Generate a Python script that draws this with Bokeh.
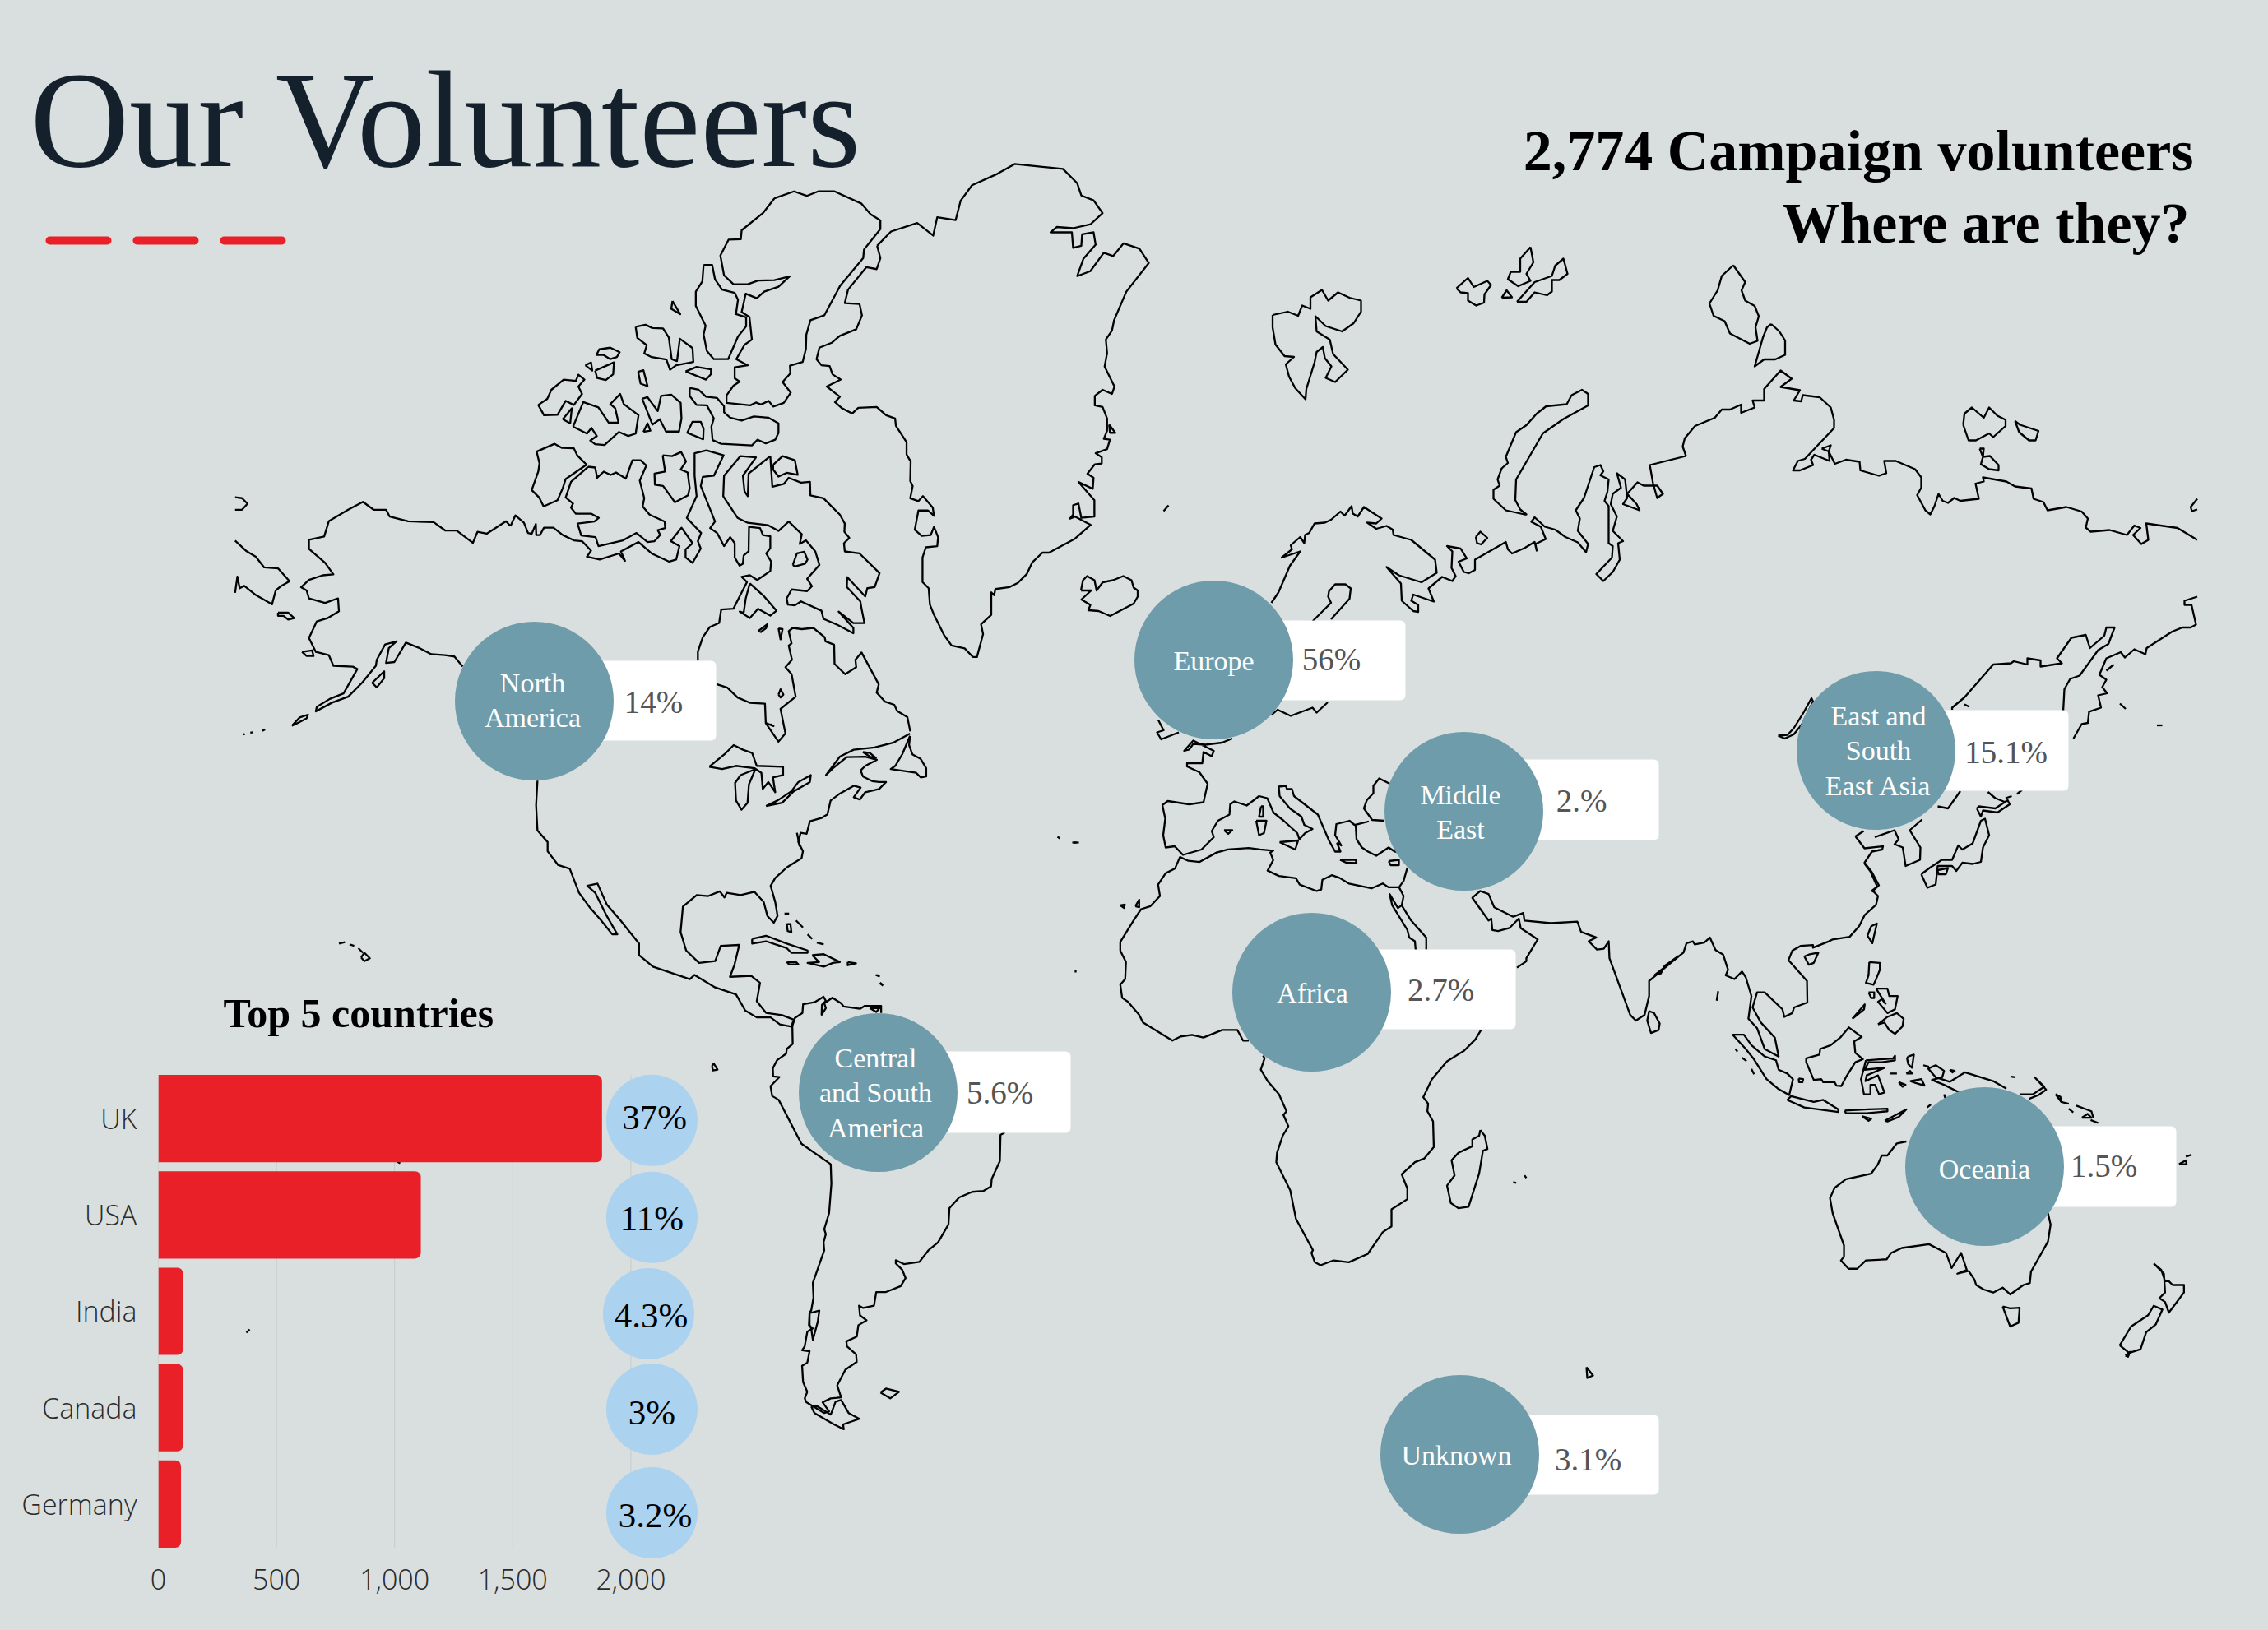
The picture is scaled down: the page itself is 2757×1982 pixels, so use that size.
from bokeh.plotting import figure
from bokeh.models import ColumnDataSource, FixedTicker, NumeralTickFormatter, Range1d
from bokeh.core.properties import value
from bokeh.embed import file_html
from bokeh.resources import INLINE

# ---------------------------------------------------------------- chart values
COUNTRIES = ["UK", "USA", "India", "Canada", "Germany"]
VOLUNTEERS = [1878, 1111, 105, 105, 96]
COUNTRY_SHARE = ["37%", "11%", "4.3%", "3%", "3.2%"]
X_TICKS = [0, 500, 1000, 1500, 2000]

REGION_NAMES = ["North\nAmerica", "Europe", "Middle\nEast", "East and\nSouth\nEast Asia",
                "Africa", "Oceania", "Central\nand South\nAmerica", "Unknown"]
REGION_SHARE = ["14%", "56%", "2.%", "15.1%", "2.7%", "1.5%", "5.6%", "3.1%"]

TITLE = "Our Volunteers"
SUBTITLE = ["2,774 Campaign volunteers", "Where are they?"]
BAR_TITLE = "Top 5 countries"

# ---------------------------------------------------------------- map outlines
# each group is expressed in its own tracing frame
FRAMES = {"arctic": (620, 180, 780 / 1568), "americas": (260, 580, 880 / 1568),
          "south": (780, 1170, 620 / 1568), "eurasia": (1300, 280, 0.5),
          "asia": (1980, 300, 0.5), "africa": (1320, 880, 720 / 1568),
          "pacific": (2000, 1050, 720 / 1568), "page": (0, 0, 1)}

CLOSED = {
"arctic": [
 [(645,122),(693,105),(724,116),(752,105),(792,105),(858,135),(880,161),(904,176),(904,197),(864,247),(862,268),(806,335),(767,408),(733,420),(723,455),(722,490),(714,522),(683,531),(684,550),(665,571),(685,597),(668,622),(642,631),(631,617),(612,626),(600,621),(586,628),(528,622),(528,604),(545,580),(560,570),(548,562),(548,535),(580,530),(552,515),(572,480),(590,467),(584,412),(565,400),(575,355),(602,366),(620,350),(655,338),(682,313),(645,322),(605,323),(580,332),(545,332),(522,310),(513,262),(533,223),(563,222),(565,200),(618,157)],
 [(472,285),(493,285),(500,320),(517,345),(548,353),(556,370),(551,405),(576,413),(576,435),(556,460),(532,515),(497,515),(480,495),(472,455),(477,433),(453,385),(453,350),(469,325)],
 [(396,373),(415,405),(393,392)],
 [(306,436),(330,431),(347,439),(373,440),(387,462),(394,515),(407,520),(414,465),(445,488),(447,522),(405,530),(390,541),(381,516),(345,510),(327,501),(333,481),(310,463)],
 [(210,505),(217,491),(244,487),(267,498),(260,510),(244,515),(228,505)],
 [(183,530),(197,523),(200,543)],
 [(207,543),(253,523),(251,552),(233,566),(212,561)],
 [(312,546),(325,542),(335,581),(318,575)],
 [(428,545),(455,534),(490,540),(490,552),(478,565)],
 [(68,627),(90,612),(100,590),(130,565),(160,568),(166,553),(181,565),(166,582),(175,600),(155,627),(135,617),(115,651),(82,652)],
 [(128,662),(150,635),(146,672)],
 [(153,680),(178,620),(215,633),(240,670),(264,670),(256,635),(244,625),(268,600),(277,625),(313,652),(306,697),(288,703),(265,693),(230,725),(207,723),(195,714),(211,703),(198,683),(187,697)],
 [(322,612),(335,608),(360,642),(368,605),(393,602),(416,622),(418,660),(412,692),(380,692),(365,662),(347,675)],
 [(325,693),(335,672),(342,690)],
 [(432,695),(445,668),(465,668),(472,685),(471,711)],
 [(438,585),(460,590),(478,607),(505,610),(522,630),(522,645),(537,658),(565,665),(595,655),(630,658),(655,672),(655,695),(647,712),(624,721),(604,712),(590,726),(515,722),(494,713),(491,680),(497,660),(480,628),(455,627),(438,605)],
 [(64,741),(108,722),(126,732),(155,733),(163,750),(186,773),(135,808),(128,830),(115,860),(81,875),(70,853),(52,835),(68,790),(71,770)],
 [(190,778),(207,780),(212,805),(228,790),(245,798),(258,792),(282,807),(298,762),(318,762),(332,775),(316,812),(327,855),(323,875),(340,895),(377,912),(378,928),(360,933),(366,945),(352,960),(335,962),(308,940),(275,958),(215,972),(208,950),(173,946),(164,917),(205,912),(216,903),(198,893),(160,893),(148,878),(153,868),(135,853),(148,815)],
 [(372,750),(395,752),(417,742),(429,765),(416,785),(433,792),(438,830),(434,848),(402,865),(373,825),(353,822),(352,795),(378,790)],
 [(635,752),(640,827),(668,820),(680,805),(710,817),(732,815),(733,848),(765,855),(805,895),(817,917),(816,937),(828,952),(815,965),(817,985),(853,990),(902,1038),(890,1072),(872,1075),(867,1095),(823,1048),(822,1072),(855,1107),(858,1125),(865,1160),(838,1160),(802,1132),(838,1172),(838,1185),(800,1165),(765,1150),(760,1130),(710,1107),(695,1117),(678,1115),(675,1100),(687,1078),(725,1082),(737,1070),(725,1052),(755,1018),(745,985),(722,958),(707,967),(712,943),(680,912),(655,935),(630,921),(580,915),(555,903),(520,850),(522,800),(562,752),(600,755),(568,800),(572,838),(580,850),(582,795)],
 [(642,773),(665,752),(695,762),(702,798),(675,793),(655,802),(642,785)],
 [(690,1018),(700,990),(718,986),(726,1005),(720,1015),(695,1022)],
 [(585,1063),(575,1100),(570,1135),(560,1132),(585,1148),(605,1125),(635,1142),(650,1130),(620,1095)],
 [(605,1180),(628,1163),(625,1172),(612,1182)],
 [(655,1173),(665,1175),(660,1200)],
 [(655,1335),(660,1322),(667,1335),(660,1342)],
 [(896,238),(930,203),(994,182),(1033,213),(1043,168),(1088,175),(1100,128),(1128,90),(1190,62),(1232,38),(1350,50),(1385,85),(1395,115),(1425,127),(1447,158),(1418,185),(1375,195),(1335,192),(1320,205),(1372,205),(1375,243),(1395,238),(1397,210),(1425,205),(1430,235),(1400,270),(1385,312),(1417,300),(1450,255),(1473,263),(1498,232),(1537,245),(1560,280),(1505,350),(1475,420),(1470,445),(1455,467),(1458,500),(1452,533),(1476,582),(1470,600),(1447,590),(1428,605),(1428,628),(1447,632),(1458,660),(1458,690),(1450,710),(1465,712),(1458,735),(1430,745),(1445,755),(1445,770),(1428,772),(1410,795),(1425,805),(1423,832),(1388,815),(1427,860),(1427,900),(1395,903),(1388,868),(1375,872),(1375,895),(1367,905),(1380,900),(1418,920),(1378,955),(1316,988),(1300,988),(1275,1012),(1262,1040),(1240,1062),(1220,1072),(1185,1077),(1182,1092),(1175,1085),(1175,1140),(1150,1163),(1155,1187),(1140,1243),(1130,1243),(1110,1222),(1078,1215),(1060,1190),(1035,1140),(1025,1115),(1022,1075),(1007,1060),(1007,1000),(1015,975),(1043,972),(1045,950),(1035,925),(1027,945),(1005,947),(988,932),(997,885),(1020,885),(1035,898),(1032,878),(1008,850),(997,862),(977,855),(983,825),(977,813),(978,765),(968,748),(968,718),(942,678),(940,660),(918,652),(895,632),(850,634),(835,648),(810,635),(793,620),(805,607),(773,582),(807,565),(787,552),(780,532),(760,530),(748,515),(755,487),(785,475),(805,458),(845,442),(859,408),(853,380),(817,378),(825,345),(870,290),(895,295),(904,268)],
 [(1463,675),(1478,695),(1465,695)],
],
"americas": [
 [(1507,560),(1490,600),(1475,625),(1465,632),(1520,640),(1530,650),(1542,648),(1542,630),(1530,610),(1512,600),(1505,580)],
 [(1405,595),(1420,597),(1433,608),(1420,605)],
 [(1072,627),(1105,600),(1125,580),(1145,590),(1165,597),(1175,625),(1232,627),(1232,645),(1210,650),(1215,682),(1200,660),(1188,675),(1185,640),(1170,630),(1130,625),(1100,632)],
 [(1172,632),(1140,645),(1128,662),(1130,700),(1142,720),(1155,705),(1158,665)],
 [(1195,712),(1220,700),(1250,680),(1265,660),(1292,645),(1290,660),(1255,680),(1230,705)],
 [(138,293),(160,293),(173,305),(160,308),(150,300),(138,300)],
 [(168,538),(185,520),(203,514),(200,522),(175,535)],
 [(342,445),(368,420),(368,435),(352,455)],
 [(190,378),(212,375),(215,387),(200,387)],
 [(318,1040),(325,1030),(337,1042),(325,1048)],
 [(1165,1000),(1195,993),(1240,1010),(1285,1025),(1285,1030),(1250,1030),(1240,1020),(1195,1005),(1165,1010)],
 [(1295,1035),(1320,1033),(1355,1050),(1340,1052),(1320,1060),(1285,1052),(1310,1050)],
 [(1240,1050),(1260,1050),(1265,1055),(1245,1055)],
 [(1372,1050),(1390,1053),(1372,1057)],
 [(1240,968),(1248,968),(1250,985),(1242,983)],
 [(1078,1275),(1082,1270),(1090,1283),(1080,1285)],
],
"south": [
 [(520,1365),(530,1385),(590,1420),(620,1435),(618,1420),(668,1403),(635,1385),(612,1345),(595,1350),(580,1390),(540,1365)],
 [(733,1322),(750,1310),(790,1320),(763,1340)],
 [(515,1078),(545,1070),(540,1105),(525,1160),(520,1125),(515,1115)],
 [(700,140),(730,140),(720,152)],
],
"eurasia": [
 [(1105,690),(1060,680),(1030,652),(1030,630),(1045,620),(1040,605),(1050,578),(1065,565),(1060,550),(1085,490),(1110,473),(1135,445),(1158,427),(1208,422),(1220,400),(1245,387),(1260,397),(1260,425),(1200,458),(1150,493),(1085,605),(1083,655),(1095,678),(1110,690)],
 [(987,745),(998,732),(1015,747),(1000,763),(990,760)],
 [(493,205),(530,197),(555,207),(565,182),(585,190),(585,162),(613,144),(628,170),(652,150),(680,163),(708,170),(708,197),(690,225),(662,245),(622,232),(597,208),(600,245),(632,265),(640,300),(676,338),(645,368),(622,358),(636,330),(620,310),(615,283),(600,295),(595,320),(575,385),(573,410),(548,383),(533,355),(525,325),(545,307),(522,305),(500,277),(493,235)],
 [(940,140),(968,115),(982,137),(1015,122),(1024,132),(1008,155),(1007,175),(988,182),(968,170),(968,152),(950,150)],
 [(1050,163),(1062,145),(1075,162)],
 [(1120,40),(1127,77),(1110,105),(1120,122),(1090,135),(1065,118),(1072,100),(1095,100),(1095,68)],
 [(1087,173),(1130,125),(1172,110),(1180,85),(1200,68),(1210,105),(1190,120),(1172,120),(1172,148),(1160,157),(1130,150),(1110,173)],
 [(27,875),(32,850),(42,840),(60,850),(65,875),(80,855),(105,850),(130,840),(150,850),(155,868),(165,875),(165,890),(155,907),(98,937),(70,925),(45,923),(50,910),(28,897),(52,875)],
 [(510,1487),(555,1483),(548,1505)],
 [(453,1435),(478,1435),(472,1465),(460,1470)],
 [(465,1400),(470,1400),(470,1425),(460,1425)],
 [(375,1458),(395,1458),(385,1467)],
 [(657,1530),(695,1530),(697,1538),(672,1537)],
 [(775,1533),(800,1530),(800,1543),(780,1543)],
],
"asia": [
 [(253,44),(282,85),(273,105),(282,130),(305,143),(315,168),(307,195),(312,228),(293,235),(245,210),(232,180),(205,167),(195,137),(215,105),(225,70)],
 [(345,187),(365,205),(379,227),(379,262),(355,273),(328,273),(305,290),(325,220),(335,195)],
 [(812,432),(815,405),(833,390),(862,415),(875,390),(895,410),(915,420),(915,435),(885,462),(875,453),(843,470),(825,470)],
 [(938,423),(950,432),(995,447),(988,470),(972,470),(948,450)],
 [(852,490),(862,490),(860,510),(877,508),(898,530),(898,543),(875,540),(855,528),(860,510)],
 [(468,490),(490,482),(485,497)],
 [(710,1525),(730,1510),(760,1490),(785,1490),(800,1455),(810,1465),(835,1450),(855,1395),(865,1390),(875,1430),(860,1460),(855,1495),(835,1500),(810,1497),(795,1517),(785,1505),(750,1505),(745,1550),(725,1558)],
 [(750,1515),(775,1510),(770,1525),(752,1525)],
 [(845,1365),(850,1360),(890,1365),(920,1345),(925,1355),(895,1375),(860,1370),(855,1385)],
],
"africa": [
 [(90,480),(102,478),(100,487)],
 [(130,482),(140,465),(140,485)],
 [(1043,1075),(1055,1090),(1062,1125),(1050,1130),(1040,1190),(1012,1278),(985,1282),(965,1268),(955,1222),(975,1195),(967,1155),(985,1135),(1022,1118),(1022,1100),(1040,1090)],
 [(1490,760),(1503,765),(1518,793),(1515,810),(1495,818),(1485,785)],
],
"pacific": [
 [(597,165),(612,158),(600,210),(587,190)],
 [(420,245),(432,240),(457,235),(445,262),(432,267)],
 [(592,260),(620,262),(620,280),(608,310),(603,320),(583,315),(590,295)],
 [(590,340),(605,340),(605,355),(597,355)],
 [(610,330),(640,330),(645,350),(667,350),(660,385),(640,395),(615,365),(625,358),(635,370)],
 [(615,425),(640,405),(665,395),(683,410),(680,430),(660,450),(645,440),(632,420)],
 [(547,410),(580,372),(578,385)],
 [(425,515),(460,505),(462,490),(490,480),(515,460),(538,433),(572,458),(552,470),(555,500),(575,517),(555,525),(530,565),(518,588),(505,587),(500,578),(470,578),(465,570),(445,572),(425,525)],
 [(230,452),(260,452),(280,480),(315,510),(345,520),(352,545),(375,555),(390,570),(380,612),(350,595),(320,570),(285,515),(265,490)],
 [(375,625),(385,615),(445,630),(470,625),(510,650),(510,657),(420,645)],
 [(527,653),(590,650),(640,648),(640,655),(585,660),(530,660)],
 [(633,680),(690,650),(670,670),(640,682)],
 [(573,668),(597,675),(590,680)],
 [(583,520),(655,515),(660,508),(660,520),(625,525),(590,525),(580,545),(632,540),(585,560),(582,575),(615,560),(632,605),(618,610),(607,585),(595,585),(595,610),(578,610),(570,570)],
 [(695,510),(710,505),(705,540),(695,530),(692,515)],
 [(690,555),(700,548),(705,555)],
 [(670,578),(688,585),(680,590)],
 [(700,575),(730,570),(738,587),(715,580)],
 [(405,568),(417,570),(415,578),(406,578)],
 [(805,545),(818,548),(812,552)],
 [(945,1172),(965,1177),(990,1175),(987,1215),(965,1225)],
 [(1345,1058),(1365,1075),(1375,1105),(1385,1105),(1395,1115),(1425,1115),(1425,1135),(1395,1175),(1385,1188),(1375,1160),(1360,1150),(1375,1135),(1372,1085)],
 [(1255,1275),(1285,1225),(1330,1195),(1345,1170),(1368,1180),(1350,1220),(1325,1240),(1310,1285),(1280,1295)],
 [(1270,1302),(1282,1292),(1277,1305)],
 [(1412,795),(1430,785),(1432,795)],
 [(1155,672),(1170,662),(1180,672)],
 [(1085,610),(1098,617),(1100,630)],
],
"page": [
 [(1928,1662),(1936,1672),(1929,1675)],
],
}

OPEN = {
"arctic": [
 [(0,923),(12,897),(33,915),(43,940),(52,942),(62,918),(63,945),(72,945),(82,927),(105,927),(128,945),(155,958),(175,960),(197,983),(187,998),(218,1005),(265,990),(280,1008),(270,985),(313,962),(345,990),(388,1010),(405,1005),(413,972),(392,960),(418,927),(445,965),(428,980),(428,1000),(445,1013),(465,978),(458,960),(466,940),(431,903),(455,850),(450,800),(450,745),(479,738),(521,750),(497,800),(470,803),(465,825),(500,912),(488,928),(505,940),(522,972),(537,950),(548,965),(548,1000),(560,1020),(568,1015),(570,995),(582,985),(583,925),(610,928),(617,945),(635,948),(635,977),(625,990),(637,1010),(635,1033),(603,1055),(585,1043),(565,1047),(578,1060),(560,1095),(545,1125),(515,1127),(510,1160),(487,1170),(470,1195),(458,1230),(458,1252)],
 [(505,1310),(530,1318),(555,1342),(585,1355),(622,1357),(624,1405),(655,1450),(672,1430),(660,1370),(697,1340),(687,1285),(672,1268),(688,1250),(680,1215),(687,1210),(680,1180),(690,1172),(712,1175),(740,1172),(768,1195),(770,1205),(791,1213),(792,1260),(818,1285),(845,1268),(843,1250),(858,1232),(900,1310),(895,1330),(915,1352),(938,1360),(945,1375),(970,1390),(977,1425)],
 [(625,1405),(643,1412),(635,1407)],
],
"americas": [
 [(45,43),(60,45),(72,57),(60,70),(45,70)],
 [(45,137),(70,160),(90,172),(108,195),(138,197),(163,225),(145,235),(133,245),(125,275),(90,255),(65,235),(55,240),(50,215),(45,250)],
 [(538,410),(520,388),(500,385),(470,383),(445,370),(415,358),(390,400),(372,402),(378,370),(395,355),(370,362),(352,395),(350,408),(320,445),(290,475),(255,488),(220,507),(222,497),(250,480),(280,468),(310,415),(300,410),(258,408),(248,385),(220,378),(205,348),(222,312),(245,305),(270,290),(268,262),(240,272),(205,262),(200,245),(188,238),(205,222),(235,212),(258,210),(240,185),(205,155),(205,135),(238,128),(248,95),(290,70),(322,53),(345,70),(372,70),(380,85),(420,95),(475,97),(500,115),(525,115),(560,142),(570,118),(590,122),(632,95),(641,105)],
 [(1507,555),(1470,575),(1430,585),(1385,590),(1355,605),(1325,645),(1340,630),(1370,606),(1410,605),(1435,612),(1410,625),(1400,635),(1405,648),(1425,658),(1440,660),(1455,660),(1440,675),(1410,682),(1398,698),(1385,693),(1400,672),(1385,668),(1355,685),(1335,700),(1328,730),(1315,738),(1290,745),(1283,772),(1270,770),(1265,790),(1275,810),(1272,825),(1240,845),(1215,868),(1205,885),(1215,920),(1220,950),(1212,965),(1198,950),(1190,920),(1170,898),(1140,905),(1110,900),(1105,910),(1095,897),(1070,907),(1045,905),(1015,930),(1010,985),(1022,1025),(1050,1052),(1085,1048),(1097,1015),(1137,1013),(1127,1055),(1117,1082),(1163,1080),(1182,1095),(1175,1135),(1195,1160),(1230,1165),(1255,1175),(1250,1190),(1225,1185),(1205,1170),(1175,1170),(1150,1155),(1130,1120),(1085,1105),(1040,1078),(1030,1087),(950,1060),(920,1035),(920,1010),(880,960),(850,925),(830,880),(808,885),(825,900),(850,950),(873,990),(862,990),(838,960),(812,930),(790,900),(770,848),(745,840),(722,810),(722,790),(700,765),(697,710),(700,657)],
 [(1262,770),(1268,800)],
 [(270,1010),(283,1007)],[(293,1012),(303,1015)],[(312,1020),(322,1030)],
 [(62,557),(66,556)],[(78,553),(84,552)],[(104,549),(110,546)],
 [(1235,945),(1245,945)],[(1260,960),(1275,975)],[(1285,990),(1295,1000)],[(1305,1008),(1320,1012)],
 [(1435,1078),(1440,1080)],[(1442,1095),(1446,1098)],
],
"south": [
 [(735,155),(735,133),(685,133),(670,142),(620,135),(612,125),(585,108),(560,125),(565,140),(552,160),(553,130),(565,118),(558,105),(530,122),(495,128),(493,155),(470,170),(462,195),(463,250),(445,265),(443,280),(415,300),(402,325),(403,350),(422,352),(395,380),(400,410),(420,422),(490,557),(580,620),(582,680),(575,770),(560,820),(565,835),(558,860),(560,885),(525,985),(527,1030),(520,1070),(515,1075),(513,1115),(525,1125),(508,1135),(500,1180),(492,1192),(515,1195),(508,1230),(492,1240),(495,1290),(508,1320),(500,1340),(505,1352),(560,1385),(575,1380),(555,1352),(580,1340),(612,1337),(600,1300),(625,1252),(660,1228),(658,1205),(630,1180),(628,1165),(660,1150),(665,1115),(690,1100),(670,1085),(667,1055),(680,1062),(713,1055),(720,1013),(750,1013),(795,995),(810,970),(800,945),(780,925),(780,915),(805,927),(853,920),(880,885),(910,860),(942,805),(945,755),(975,722),(1015,705),(1050,702),(1073,688),(1075,665),(1100,610),(1102,530),(1115,522)],
],
"eurasia": [
 [(490,905),(507,880),(535,815),(560,780),(515,795),(540,775),(537,765),(560,745),(570,760),(572,740),(582,735),(595,712),(620,710),(635,703),(658,683),(668,693),(685,670),(688,688),(700,695),(715,672),(758,700),(745,712),(723,710),(745,725),(770,718),(785,727),(787,740),(830,752),(888,800),(892,832),(855,855),(800,838),(770,818),(805,858),(807,900),(835,925),(847,927),(847,910),(830,900),(835,885),(885,902),(872,870),(905,842),(930,852),(938,840),(928,820),(930,780),(917,767),(950,773),(965,797),(945,805),(958,830),(970,833),(985,825),(985,800),(1060,757),(1065,775),(1075,785),(1105,772),(1130,757),(1135,778),(1132,762),(1157,750),(1145,720),(1122,708),(1130,697),(1155,720),(1180,727),(1205,745),(1235,758),(1255,782),(1260,762),(1235,730),(1240,700),(1230,680),(1250,650),(1275,575),(1290,570),(1297,585),(1290,595),(1310,605),(1307,635),(1300,657),(1310,670),(1310,760),(1320,767),(1318,795),(1280,835),(1297,852),(1320,830),(1337,800),(1333,760),(1345,755),(1320,730),(1330,695),(1315,665),(1320,640),(1340,625),(1330,590),(1350,605),(1355,650),(1345,665),(1385,680),(1378,665),(1355,640),(1380,612),(1395,620),(1428,620),(1442,640),(1428,650),(1418,615),(1410,570),(1498,548)],
 [(635,945),(680,895),(683,870),(670,860),(645,860),(630,877),(628,890),(635,905),(590,950)],
 [(490,1178),(505,1165),(537,1180),(590,1160),(600,1172),(627,1147)],
 [(215,1190),(228,1215),(212,1220),(222,1237),(265,1220)],
 [(395,1235),(370,1245),(330,1250),(300,1248),(290,1262),(278,1265),(300,1240),(350,1265),(345,1278),(325,1268),(322,1295),(285,1295),(285,1303),(315,1317),(335,1345),(325,1390),(290,1395),(238,1387),(225,1397),(232,1430),(227,1470),(233,1500),(255,1497),(275,1518),(320,1505),(350,1475),(345,1460),(360,1435),(388,1420),(390,1395),(400,1388),(430,1398),(460,1375),(480,1380),(495,1415),(520,1435),(553,1465),(558,1480),(572,1465),(590,1455),(570,1445),(563,1425),(535,1405),(510,1375),(508,1352),(525,1350),(528,1358),(540,1358),(545,1375),(603,1420),(630,1483),(645,1510),(658,1510),(650,1490),(660,1495),(645,1470),(648,1443),(680,1435),(692,1445),(725,1437),(695,1445),(697,1480),(710,1500),(725,1510),(745,1520),(775,1500),(790,1510),(810,1515)],
 [(778,1345),(752,1332),(738,1350),(738,1368),(722,1385),(715,1405),(735,1433),(765,1435)],
 [(228,682),(240,668)],
],
"asia": [
 [(138,508),(130,485),(135,465),(160,435),(208,415),(225,395),(245,395),(272,383),(272,403),(305,390),(300,373),(328,373),(328,345),(368,300),(395,320),(368,340),(415,348),(400,373),(418,375),(422,360),(463,365),(490,390),(498,420),(498,440),(427,515),(410,520),(398,543),(415,543),(447,530),(442,517),(450,505),(487,520),(485,497),(500,527),(527,517),(560,522),(562,543),(607,556),(625,550),(620,520),(648,520),(695,540),(710,560),(710,585),(700,603),(720,640),(732,650),(742,630),(752,600),(762,617),(775,622),(790,610),(805,617),(850,612),(842,575),(862,570),(860,560),(917,570),(938,582),(978,587),(983,612),(1007,620),(1017,640),(1063,632),(1100,643),(1115,660),(1110,682),(1122,692),(1168,688),(1210,700),(1228,677),(1243,683),(1225,700),(1245,722),(1262,712),(1257,672),(1333,683),(1381,712)],
 [(1381,612),(1365,632),(1368,642),(1381,638)],
 [(362,1188),(378,1195),(400,1185),(420,1160),(447,1105),(443,1097),(425,1130),(400,1170),(385,1186),(362,1188)],
 [(785,1125),(785,1120),(815,1095),(885,1015),(928,1012),(935,1007),(968,1015),(968,1000),(1000,1005),(1000,1020),(1052,1012),(1040,1000),(1075,950),(1110,943),(1120,975),(1155,945),(1160,925),(1180,925),(1165,965),(1140,980),(1095,1042),(1072,1050),(1058,1075),(1055,1130)],
 [(1080,1195),(1100,1160),(1115,1157),(1118,1130),(1147,1120),(1140,1090),(1162,1085),(1150,1070),(1160,1052),(1143,1040),(1160,1000),(1195,985),(1205,998),(1228,978),(1255,990),(1258,975),(1320,935),(1345,925),(1365,925),(1378,918),(1367,870),(1350,870),(1350,860),(1381,850)],
 [(1160,1030),(1178,1015)],
 [(815,1112),(827,1118)],
 [(805,1323),(775,1365),(750,1360)],
 [(872,1325),(890,1340),(915,1350)],
 [(915,1340),(930,1335)],[(943,1330),(955,1320)],
 [(1193,1110),(1207,1123)],[(1283,1163),(1296,1163)],
 [(550,1433),(572,1462),(617,1457),(615,1465),(590,1470),(572,1497),(590,1520),(607,1552),(590,1568)],
 [(597,1435),(645,1418),(655,1440),(645,1452),(665,1460),(672,1505),(707,1490),(708,1460),(682,1418),(712,1392)],
 [(550,1433),(570,1420)],
],
"africa": [
 [(1045,810),(1030,835),(1000,865),(955,893),(915,940),(892,988),(905,1005),(903,1025),(918,1052),(920,1120),(895,1150),(870,1160),(835,1192),(850,1230),(850,1258),(808,1285),(808,1330),(785,1345),(745,1403),(695,1425),(655,1420),(620,1433),(605,1425),(596,1400),(600,1393),(555,1310),(540,1235),(503,1160),(505,1135),(520,1090),(535,1065),(522,1035),(530,1025),(510,980),(480,945),(462,915),(472,885),(468,878)],
 [(430,838),(415,838),(400,810),(360,810),(310,830),(280,823),(250,827),(228,838),(150,790),(140,770),(110,735),(95,725),(90,690),(103,675),(105,630),(90,600),(90,577),(125,520),(145,490),(170,482),(195,455),(190,425),(210,395),(235,382),(248,352),(270,362),(300,365),(345,340),(375,332),(430,328),(460,332),(495,335),(487,340),(495,360),(480,388),(510,402),(555,408),(565,425),(610,442),(622,438),(625,412),(650,400),(670,407),(695,422),(755,435),(785,422),(800,432),(828,432),(840,415),(850,380)],
 [(828,432),(840,455),(835,480),(825,487),(803,450),(810,480),(850,545),(855,565),(870,575),(872,598)],
 [(835,480),(860,520),(900,565),(900,597)],
 [(1140,645),(1165,628),(1165,620),(1195,570),(1150,540),(1145,515),(1120,540),(1090,548),(1075,545),(1072,515),(1065,520),(1022,460),(1043,442),(1065,450),(1080,485),(1130,510),(1157,500),(1160,520),(1230,527),(1300,523),(1310,550),(1350,565),(1330,575),(1352,597),(1370,595),(1383,575),(1385,620),(1440,770),(1455,785),(1478,770),(1490,720),(1490,680),(1520,655),(1568,615)],
 [(1130,1213),(1138,1215)],[(1160,1195),(1165,1202)],
],
"pacific": [
 [(87,244),(50,270),(40,290),(25,293),(100,235),(108,210),(125,205),(130,213),(155,208),(170,195),(185,228),(205,240),(218,280),(212,295),(235,305),(255,285),(265,300),(280,350),(272,410),(295,435),(315,490),(352,510),(342,460),(305,420),(283,380),(295,340),(315,340),(362,385),(367,405),(388,395),(393,380),(428,367),(427,310),(378,255),(388,230),(410,217),(443,215),(443,222),(485,205),(495,200),(540,193),(565,165),(580,135),(610,108),(615,85),(600,70),(613,60),(595,20),(580,0)],
 [(192,337),(188,362)],
 [(238,490),(243,497)],[(255,513),(267,522)],[(280,543),(287,557)],
 [(648,555),(665,555)],[(735,533),(750,537)],[(968,563),(978,565)],
 [(745,645),(755,637)],[(793,620),(790,610)],
 [(830,605),(790,585),(758,572),(785,565),(790,548),(768,533),(748,542),(768,565),(805,577),(845,552),(920,575),(955,595)],
 [(990,610),(1025,610),(1055,590),(1030,565),(1060,598),(1040,612),(1015,622)],
 [(1120,635),(1100,630)],[(1140,640),(1180,655),(1185,672)],[(1178,678),(1198,686)],[(1120,648),(1132,658)],
 [(1430,775),(1445,770)],
 [(690,735),(665,740),(640,772),(625,772),(615,795),(597,820),(530,835),(500,858),(488,885),(495,925),(525,1010),(525,1040),(517,1050),(537,1072),(560,1072),(583,1050),(638,1047),(650,1030),(678,1017),(750,1007),(795,1030),(810,1070),(835,1030),(845,1060),(850,1075),(825,1085),(855,1078),(870,1100),(875,1115),(895,1127),(920,1135),(945,1122),(965,1140),(1000,1115),(1017,1110),(1020,1080),(1065,1000),(1072,955),(1065,925)],
],
"page": [
 [(1285,1017),(1288,1019)],[(1303,1024),(1308,1024)],[(1307,1179),(1307,1182)],
 [(1064,1185),(1069,1187)],[(1069,1195),(1073,1198)],[(299,1620),(303,1616)],
 [(1305,1024),(1311,1024)],[(482,1412),(486,1414)],
],
}

# ---------------------------------------------------------------- layout of the annotations
REGION_X = [649, 1475, 1779, 2280, 1594, 2412, 1067, 1774]
REGION_Y = [852, 802, 986, 912, 1206, 1418, 1328, 1768]
REGION_LABEL_X = [647, 1475, 1775, 2283, 1595, 2412, 1064, 1770]
REGION_LABEL_Y = [851, 803, 987, 912, 1207, 1421, 1328, 1769]
LINE_STEP = 42.5
BOX_RIGHT = [870, 1708, 2016, 2514, 1842, 2645, 1301, 2016]
BOX_TOP = [803, 754, 923, 863, 1154, 1369, 1278, 1720]
BOX_BOTTOM = [900, 851, 1021, 961, 1251, 1467, 1377, 1817]
SHARE_X = [794, 1618, 1922, 2438, 1751, 2557, 1215, 1930]
SHARE_Y = [853, 801, 973, 914, 1203, 1417, 1328, 1774]

BG = "#d9dfdf"
RED = "#e92027"
TEAL = "#6f9caa"
BLUE = "#abd2ee"
INK = "#14202b"
SERIF = "Liberation Serif"

# ---------------------------------------------------------------- main canvas
p = figure(width=2741, height=1966, x_range=Range1d(0, 2741), y_range=Range1d(1966, 0),
           output_backend="svg", toolbar_location=None, min_border=0)
p.axis.visible = False
p.grid.visible = False
p.outline_line_color = None
p.background_fill_color = BG
p.border_fill_color = BG

xs, ys = [], []
for store, closed in ((CLOSED, True), (OPEN, False)):
    for frame, shapes in store.items():
        x0, y0, k = FRAMES[frame]
        for shape in shapes:
            pts = list(shape) + ([shape[0]] if closed else [])
            xs.append([x0 + a * k for a, _ in pts])
            ys.append([y0 + c * k for _, c in pts])
p.multi_line(xs, ys, line_color="#000000", line_width=2.3, line_join="round")

# title block
p.text([36], [145], text=[TITLE], text_font=value(SERIF), text_font_size="167px",
       text_color=INK, text_align="left", text_baseline="middle")
p.segment([60, 166, 272], [292] * 3, [130, 236, 342], [292] * 3, line_color=RED,
          line_width=10, line_cap="round")
p.text([2666, 2661], [183, 271], text=SUBTITLE, text_font=value(SERIF), text_font_style="bold",
       text_font_size="70px", text_color="#000000", text_align="right", text_baseline="middle")
p.text([271], [1231], text=[BAR_TITLE], text_font=value(SERIF), text_font_style="bold",
       text_font_size="50px", text_color="#000000", text_align="left", text_baseline="middle")

# region call-outs
p.quad(left=[x + 40 for x in REGION_X], right=BOX_RIGHT, top=BOX_TOP, bottom=BOX_BOTTOM,
       fill_color="#ffffff", line_color=None, border_radius=6)
p.circle(REGION_X, REGION_Y, radius=96.5, fill_color=TEAL, line_color=None)
lab_x, lab_y, lab_t = [], [], []
for name, lx, ly in zip(REGION_NAMES, REGION_LABEL_X, REGION_LABEL_Y):
    lines = name.split("\n")
    for i, line in enumerate(lines):
        lab_x.append(lx)
        lab_y.append(ly + (i - (len(lines) - 1) / 2) * LINE_STEP)
        lab_t.append(line)
p.text(lab_x, lab_y, text=lab_t, text_font=value(SERIF), text_font_size="34px",
       text_color="#ffffff", text_align="center", text_baseline="middle")
p.text(SHARE_X, SHARE_Y, text=REGION_SHARE, text_font=value(SERIF), text_font_size="39px",
       text_color="#555555", text_align="center", text_baseline="middle")

# ---------------------------------------------------------------- bar chart
ROWS = list(range(len(COUNTRIES)))
SHARE_DOT_X = [2089, 2089, 2075, 2089, 2089]
SHARE_DOT_ROW = [0.018, 1.026, 2.025, 3.016, 4.09]
SHARE_TEXT_X = [2100, 2089, 2086, 2089, 2103]
SHARE_TEXT_ROW = [-0.016, 1.04, 2.04, 3.05, 4.12]

b = figure(width=860, height=650, x_range=Range1d(0, 2326), y_range=Range1d(4.611, -0.5),
           output_backend="svg", toolbar_location=None,
           min_border_left=192, min_border_right=0, min_border_top=0, min_border_bottom=51,
           styles={"position": "absolute", "left": "0px", "top": "1301px"})
b.background_fill_alpha = 0
b.border_fill_alpha = 0
b.outline_line_color = None
b.grid.visible = False
b.xaxis.ticker = FixedTicker(ticks=X_TICKS)
b.xaxis.formatter = NumeralTickFormatter(format="0,0")
b.xaxis.axis_line_color = None
b.xaxis.major_tick_line_color = None
b.xaxis.minor_tick_line_color = None
b.xaxis.major_label_standoff = 1
b.yaxis.ticker = FixedTicker(ticks=ROWS)
b.yaxis.major_label_overrides = dict(zip(ROWS, COUNTRIES))
b.yaxis.axis_line_color = None
b.yaxis.major_tick_line_color = None
b.yaxis.minor_tick_line_color = None
b.yaxis.major_label_standoff = 20
for ax in (b.xaxis, b.yaxis):
    ax.major_label_text_font = "Open Sans Light"
    ax.major_label_text_font_size = "34px"
    ax.major_label_text_color = "#2b2b2b"
    ax.major_label_text_font_style = "normal"

b.segment(X_TICKS, [-0.45] * len(X_TICKS), X_TICKS, [4.45] * len(X_TICKS),
          line_color="#c5cbcb", line_width=1)
src = ColumnDataSource(dict(row=ROWS, volunteers=VOLUNTEERS))
b.hbar(y="row", right="volunteers", left=0, height=0.906, source=src, fill_color=RED,
       line_color=None, border_radius=(0, 7, 7, 0))
b.scatter(SHARE_DOT_X, SHARE_DOT_ROW, size=111, marker="circle",
          fill_color=BLUE, line_color=None)
b.text(SHARE_TEXT_X, SHARE_TEXT_ROW, text=COUNTRY_SHARE,
       text_font=value(SERIF), text_font_size="43px", text_color="#000000",
       text_align="center", text_baseline="middle")

html = file_html((p, b), INLINE)
html = html.replace("<head>", f"<head><style>html,body{{background:{BG};}}</style>", 1)
open("out.html", "w").write(html)
